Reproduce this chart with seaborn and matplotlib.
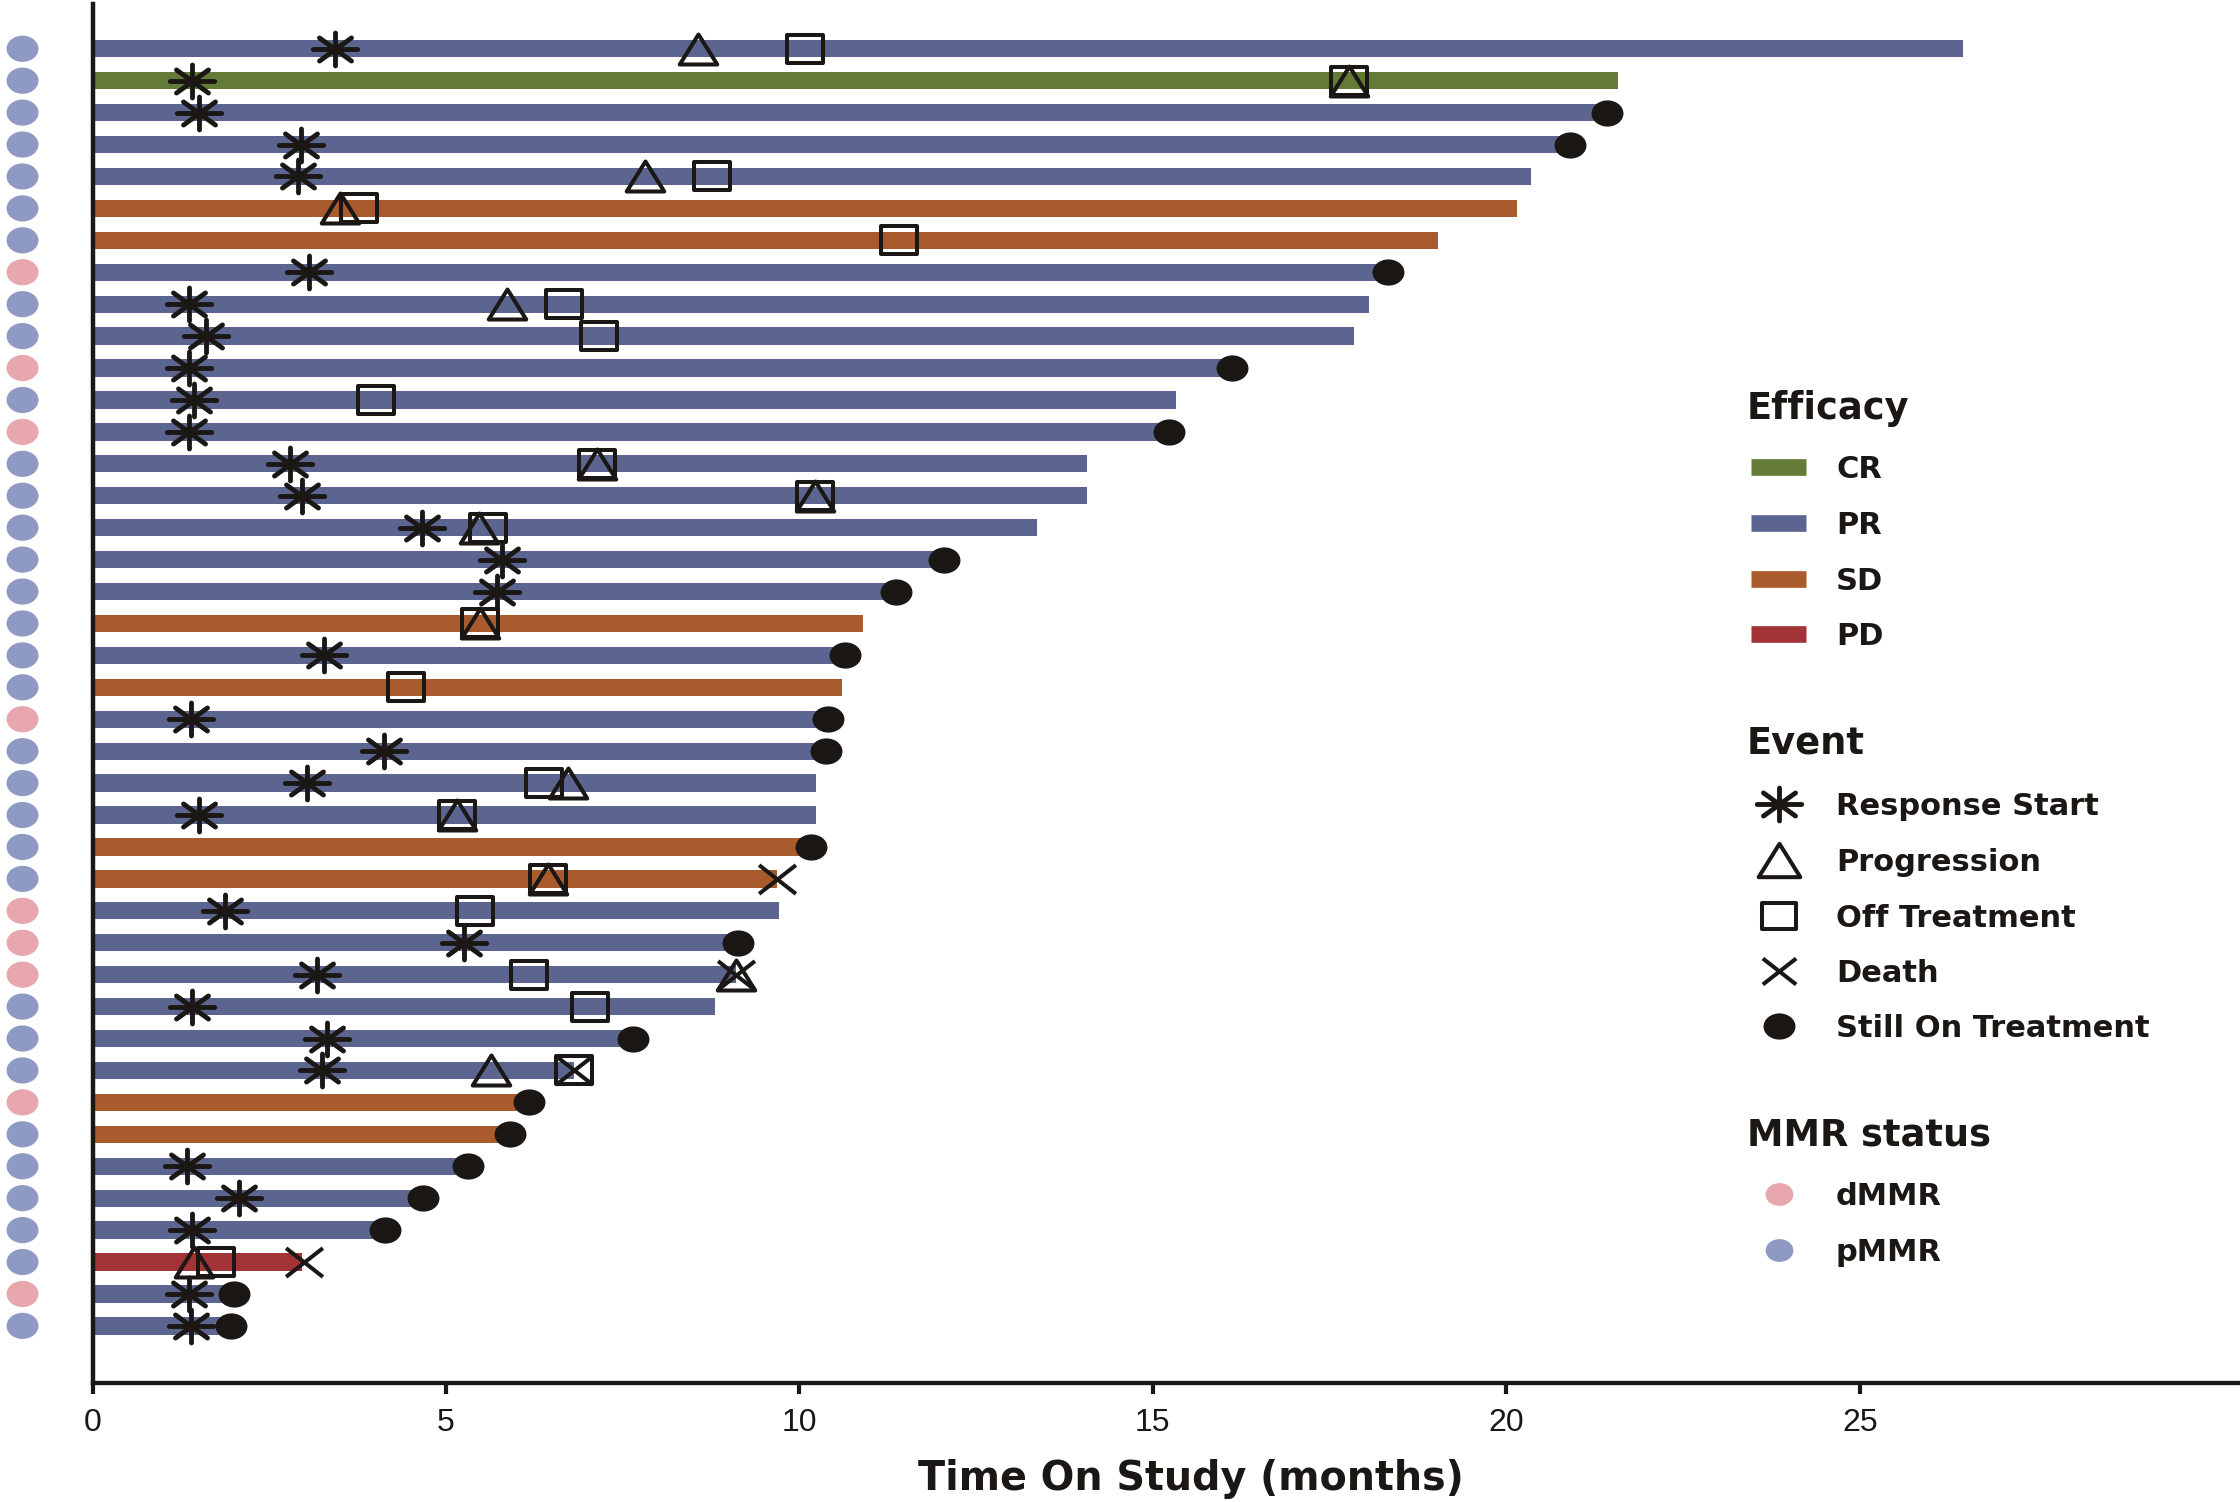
import numpy as np
import pandas as pd
import matplotlib
matplotlib.use("Agg")
import matplotlib.pyplot as plt
from matplotlib.path import Path
from matplotlib.markers import MarkerStyle
from matplotlib.transforms import Affine2D
from matplotlib.lines import Line2D
import seaborn as sns

nan = np.nan

# one row per patient, top to bottom
patients = [f"P{i:02d}" for i in range(1, 42)]
efficacy = ["PR", "CR", "PR", "PR", "PR", "SD", "SD", "PR", "PR", "PR",
            "PR", "PR", "PR", "PR", "PR", "PR", "PR", "PR", "SD", "PR",
            "SD", "PR", "PR", "PR", "PR", "SD", "SD", "PR", "PR", "PR",
            "PR", "PR", "PR", "SD", "SD", "PR", "PR", "PR", "PD", "PR", "PR"]
mmr = ["pMMR", "pMMR", "pMMR", "pMMR", "pMMR", "pMMR", "pMMR", "dMMR", "pMMR", "pMMR",
       "dMMR", "pMMR", "dMMR", "pMMR", "pMMR", "pMMR", "pMMR", "pMMR", "pMMR", "pMMR",
       "pMMR", "dMMR", "pMMR", "pMMR", "pMMR", "pMMR", "pMMR", "dMMR", "dMMR", "dMMR",
       "pMMR", "pMMR", "pMMR", "dMMR", "pMMR", "pMMR", "pMMR", "pMMR", "pMMR", "dMMR", "pMMR"]
duration = [26.46, 21.58, 21.42, 20.90, 20.35, 20.15, 19.03, 18.33, 18.06, 17.84,
            16.12, 15.33, 15.23, 14.07, 14.07, 13.36, 12.04, 11.37, 10.90, 10.64,
            10.60, 10.40, 10.38, 10.24, 10.24, 10.17, 9.69, 9.71, 9.13, 9.10,
            8.80, 7.64, 6.81, 6.17, 5.90, 5.31, 4.67, 4.14, 2.97, 2.00, 1.96]
response_start = [3.43, 1.41, 1.51, 2.95, 2.90, nan, nan, 3.06, 1.37, 1.61,
                  1.37, 1.43, 1.37, 2.80, 2.96, 4.66, 5.79, 5.72, nan, 3.27,
                  nan, 1.40, 4.13, 3.03, 1.51, nan, nan, 1.87, 5.26, 3.18,
                  1.41, 3.32, 3.24, nan, nan, 1.34, 2.07, 1.41, nan, 1.36, 1.40]
progression = [8.57, 17.78, nan, nan, 7.81, 3.50, nan, nan, 5.87, nan,
               nan, nan, nan, 7.14, 10.22, 5.47, nan, nan, 5.48, nan,
               nan, nan, nan, 6.73, 5.15, nan, 6.45, nan, nan, 9.10,
               nan, nan, 5.64, nan, nan, nan, nan, nan, 1.43, nan, nan]
off_treatment = [10.08, 17.78, nan, nan, 8.77, 3.77, 11.41, nan, 6.67, 7.17,
                 nan, 4.01, nan, 7.14, 10.22, 5.60, nan, nan, 5.48, nan,
                 4.43, nan, nan, 6.39, 5.15, nan, 6.45, 5.41, nan, 6.17,
                 7.04, nan, 6.81, nan, nan, nan, nan, nan, 1.74, nan, nan]
death = [nan] * 26 + [9.69, nan, nan, 9.10, nan, nan, 6.81] + [nan] * 5 + [2.99, nan, nan]
still_on = [nan, nan, 21.42, 20.90, nan, nan, nan, 18.33, nan, nan,
            16.12, nan, 15.23, nan, nan, nan, 12.04, 11.37, nan, 10.64,
            nan, 10.40, 10.38, nan, nan, 10.17, nan, nan, 9.13, nan,
            nan, 7.64, nan, 6.17, 5.90, 5.31, 4.67, 4.14, nan, 2.00, 1.96]

eff_labels = ["CR", "PR", "SD", "PD"]
eff_colors = {"CR": "#637b37", "PR": "#5b658f", "SD": "#a95b2e", "PD": "#a23337"}
mmr_labels = ["dMMR", "pMMR"]
mmr_colors = {"dMMR": "#e8a6ad", "pMMR": "#8e9ac3"}
event_labels = ["Response Start", "Progression", "Off Treatment", "Death", "Still On Treatment"]
xtick_vals = [0, 5, 10, 15, 20, 25]
ink = "#1a1715"

# marker shapes, a bit wider than tall like in the original
M, L = Path.MOVETO, Path.LINETO
star_p = Path([(-1, 0), (1, 0), (0, -0.74), (0, 0.74),
               (-0.72, -0.52), (0.72, 0.52), (-0.72, 0.52), (0.72, -0.52)], [M, L] * 4)
tri_p = Path([(-1, -0.8), (1, -0.8), (0, 0.8), (-1, -0.8)], [M, L, L, Path.CLOSEPOLY])
sq_p = Path([(-1, -0.77), (1, -0.77), (1, 0.77), (-1, 0.77), (-1, -0.77)],
            [M, L, L, L, Path.CLOSEPOLY])
x_p = Path([(-1, -0.78), (1, 0.78), (-1, 0.78), (1, -0.78)], [M, L, M, L])
dot_p = Affine2D().scale(1, 0.82).transform_path(Path.unit_circle())

star_m = MarkerStyle(star_p, capstyle="round", joinstyle="round")
tri_m = MarkerStyle(tri_p, joinstyle="miter")
sq_m = MarkerStyle(sq_p, joinstyle="round")
x_m = MarkerStyle(x_p, capstyle="butt")
dot_m = MarkerStyle(dot_p)

sns.set_theme(style="white")
plt.rcParams["font.family"] = ["DejaVu Sans"]
plt.rcParams["xtick.labelsize"] = 23

fig = plt.figure(figsize=(22.4, 15.02), dpi=100)
ax = fig.add_axes([0.0413, 0.0792, 0.9587, 0.9181])

df = pd.DataFrame({"patient": patients, "months": duration, "efficacy": efficacy})
sns.barplot(data=df, x="months", y="patient", hue="efficacy", palette=eff_colors,
            dodge=False, width=0.54, saturation=1, orient="h", errorbar=None,
            legend=False, linewidth=0, ax=ax)

ypos = np.arange(len(patients))
ev_style = dict(ls="none", mec=ink, mfc="none", zorder=3)
ax.plot(off_treatment, ypos, marker=sq_m, ms=26.5, mew=2.9, **ev_style)
ax.plot(progression, ypos, marker=tri_m, ms=27, mew=2.9, **ev_style)
ax.plot(death, ypos, marker=x_m, ms=26.5, mew=2.9, **ev_style)
ax.plot(response_start, ypos, marker=star_m, ms=32, mew=3.5, **ev_style)
ax.plot(still_on, ypos, ls="none", marker=dot_m, ms=23, mfc=ink, mec="none", zorder=3)

# MMR status dots left of the axis
ax.scatter(np.full(len(patients), -0.99), ypos, marker=dot_m, s=23 ** 2,
           c=[mmr_colors[m] for m in mmr], linewidths=0, clip_on=False, zorder=3)

ax.set_xlim(0, 30.38)
ax.set_ylim(41.79, -1.40)
ax.set_yticks([])
ax.set_ylabel("")
ax.set_xticks(xtick_vals, labels=[str(v) for v in xtick_vals])
ax.tick_params(axis="x", bottom=True, length=8, width=3, pad=10, color=ink,
               labelsize=23, labelcolor=ink, labelfontfamily="Liberation Sans")
sns.despine(ax=ax)
ax.spines["left"].set_linewidth(3.2)
ax.spines["bottom"].set_linewidth(3.1)
for s in ("left", "bottom"):
    ax.spines[s].set_color(ink)

ax.set_xlabel("Time On Study (months)", fontsize=28.5, fontweight="bold", color=ink)
ax.xaxis.set_label_coords(0.5116, -0.0776)
ax.xaxis.label.set_verticalalignment("baseline")


# legend blocks on the right (figure pixel positions)
def fx(px):
    return px / 2240


def fy(py):
    return 1 - py / 1502


def title(y, s):
    fig.text(fx(1747), fy(y + 13), s, fontsize=26.5, fontweight="bold",
             color=ink, va="baseline")


def label(y, s):
    fig.text(fx(1836), fy(y + 11), s, fontsize=22, fontweight="bold",
             color=ink, va="baseline")


title(406, "Efficacy")
for y, lab in zip([467, 523, 579, 634], eff_labels):
    fig.add_artist(Line2D([fx(1751), fx(1806)], [fy(y), fy(y)], transform=fig.transFigure,
                          lw=12, color=eff_colors[lab], solid_capstyle="butt"))
    label(y, lab)

title(741, "Event")
ev_marks = [(star_m, 32, 3.5), (tri_m, 30, 2.9), (sq_m, 24, 2.9), (x_m, 24, 2.9), (dot_m, 23, 0)]
for y, lab, (mk, ms, mw) in zip([804, 860, 916, 971, 1026], event_labels, ev_marks):
    filled = mk is dot_m
    fig.add_artist(Line2D([fx(1779)], [fy(y)], transform=fig.transFigure, ls="none",
                          marker=mk, ms=ms, mew=mw, mec="none" if filled else ink,
                          mfc=ink if filled else "none"))
    label(y, lab)

title(1133, "MMR status")
for y, lab in zip([1194, 1250], mmr_labels):
    fig.add_artist(Line2D([fx(1779)], [fy(y)], transform=fig.transFigure, ls="none",
                          marker=dot_m, ms=20, mec="none", mfc=mmr_colors[lab]))
    label(y, lab)

fig.savefig("out.png", dpi=100)
